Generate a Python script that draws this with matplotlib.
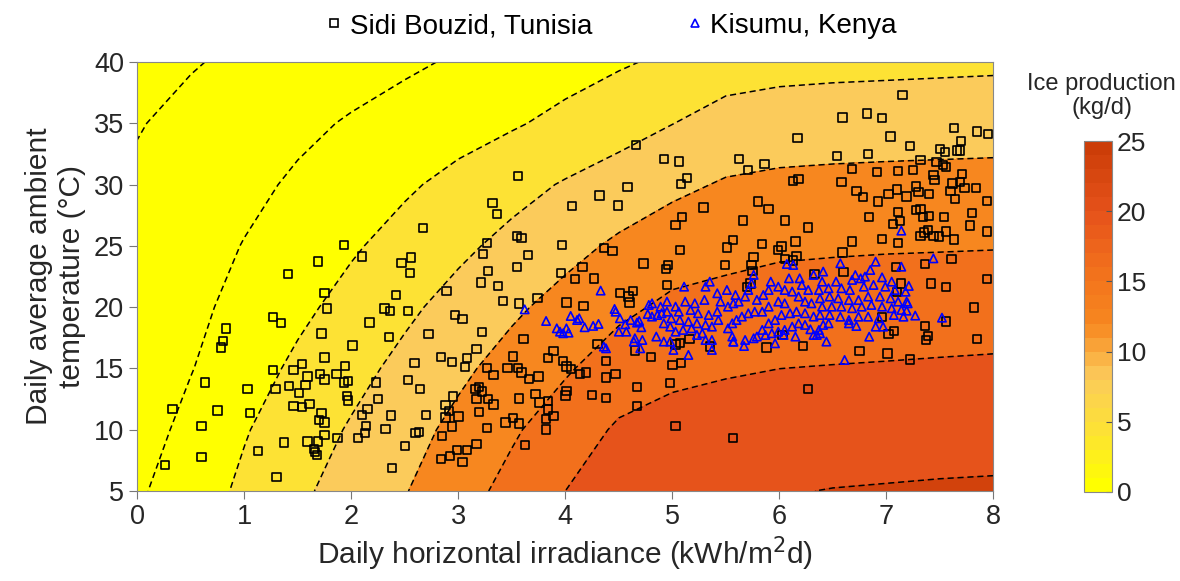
import matplotlib.pyplot as plt
import numpy as np
from matplotlib.colors import LinearSegmentedColormap, Normalize
from matplotlib.cm import ScalarMappable
from matplotlib.lines import Line2D

plt.rcParams['font.family'] = ['Liberation Sans', 'DejaVu Sans']
plt.rcParams['lines.dashed_pattern'] = [4, 2.5]

# modelled ice production (kg/d)
irr_grid = [0, 0.5, 1, 1.5, 2, 2.5, 3, 3.5, 4, 4.5, 5, 5.5, 6, 6.5, 7, 7.5, 8]
temp_grid = [5, 10, 15, 20, 25, 30, 35, 40]
ice_grid = [
    [-0.53, 2.1, 4.72, 7.28, 9.6, 11.82, 14.45, 17.18, 20.0, 21.5, 22.5, 23.3, 23.8, 24.1, 24.25, 24.4, 24.5],
    [-1.65, 1.04, 3.73, 6.07, 8.36, 10.61, 12.96, 15.49, 18.05, 20.5, 21.1, 21.5, 21.9, 22.1, 22.25, 22.4, 22.5],
    [-2.65, -0.15, 2.35, 4.72, 6.82, 8.99, 11.24, 13.42, 15.57, 17.9, 19.29, 19.69, 19.99, 20.14, 20.27, 20.42, 20.56],
    [-2.94, -0.9, 1.14, 3.18, 5.22, 7.27, 9.31, 11.35, 13.28, 15.17, 16.75, 17.27, 17.72, 17.88, 18.0, 18.1, 18.21],
    [-3.28, -1.57, 0.14, 1.85, 3.56, 5.37, 7.22, 9.05, 10.85, 12.62, 14.11, 14.83, 15.38, 15.56, 15.69, 15.76, 15.84],
    [-3.45, -2.38, -0.91, 0.53, 2.0, 3.47, 5.06, 6.71, 8.31, 9.73, 11.15, 12.36, 12.81, 12.98, 13.09, 13.17, 13.25],
    [-4.2, -3.06, -1.93, -0.79, 0.33, 1.42, 2.51, 3.61, 4.96, 6.45, 7.94, 9.37, 9.86, 10.06, 10.19, 10.3, 10.4],
    [-5.16, -4.24, -3.33, -2.41, -1.49, -0.58, 0.4, 1.46, 2.52, 3.58, 4.7, 6.3, 6.74, 6.94, 7.06, 7.19, 7.32],
]
levels = [-4, 0, 4, 8, 12, 16, 20, 24]
fill_colors = ['#FFFF00', '#FFFF00', '#FFFF00', '#FDE234', '#FBCB5B',
               '#F7871F', '#F2701C', '#E6531B', '#D2420C']

cbar_values = [0, 4, 8, 12, 16, 20, 24, 25]
cbar_colors = ['#FFFF00', '#FDE234', '#FBCB5B', '#F7871F', '#F2701C', '#E6531B', '#D2420C', '#CC3D08']

tunisia_irr = [
    1.93, 1.69, 2.10, 2.47, 2.56, 2.67, 2.55, 1.41,
    1.75, 2.42, 1.77, 1.27, 1.34, 2.31, 2.36, 2.53, 2.17, 0.83, 0.80, 0.78,
    1.72, 2.35, 2.01, 1.75, 2.59, 1.27, 1.54, 1.46, 1.59, 1.71, 1.75, 1.86,
    1.94, 1.93, 1.97, 1.57, 1.42, 1.29, 1.03, 0.63, 1.51, 1.96, 1.97, 2.23,
    2.53, 2.64, 2.72, 2.25, 1.46, 1.54, 1.61, 1.72, 1.70, 1.75, 2.15, 2.10,
    2.37, 2.70, 0.33, 0.75, 1.05, 0.60, 2.14, 2.32, 2.13, 2.06, 1.87, 1.75,
    2.63, 2.60, 1.59, 1.69, 1.37, 1.13, 1.65, 1.66, 1.68, 0.60, 0.26, 1.30,
    2.38, 2.50,
    4.66, 4.92, 5.06, 5.14, 5.08, 4.58, 4.32, 4.06, 4.49, 5.29, 3.56, 3.32,
    3.36, 5.09, 5.03, 3.55, 3.59, 3.27, 3.23, 3.65, 3.97, 4.36, 4.44, 5.07,
    3.55, 3.28, 4.73, 4.96, 4.94, 4.16, 3.96,
    3.21, 3.37, 2.89, 3.42, 3.57, 3.74, 2.97, 3.04, 3.22, 3.61, 3.17, 2.84,
    2.94, 3.08, 3.06, 3.27, 3.33, 3.46, 3.51, 3.56, 3.59, 3.66, 3.75, 3.89,
    3.84, 3.98, 4.01, 4.05, 4.14, 4.19, 4.38, 4.38, 4.47, 4.30, 4.01, 4.17,
    4.09, 4.27, 4.51, 4.63, 4.60, 4.59, 4.95, 4.67, 4.98, 4.67, 5.03, 4.80,
    4.65, 5.00, 5.08, 5.07, 5.16, 5.03, 2.95, 2.88, 2.91, 2.88, 2.94, 3.00,
    2.85, 3.16, 3.19, 3.22, 3.17, 3.28, 3.33, 3.19, 3.27, 3.57, 3.44, 3.51,
    3.57, 3.72, 3.76, 3.84, 3.84, 3.82, 3.89, 3.82, 4.01, 4.00, 4.25, 4.38,
    3.62, 3.17, 3.08, 2.99, 2.92, 2.84, 3.04,
    7.15, 6.59, 6.82, 6.96, 6.17, 7.04, 7.22, 7.63, 7.85, 7.95, 7.70, 7.50,
    7.55, 7.66, 7.69, 5.62, 5.71, 5.86, 6.54, 6.83, 7.32, 7.47, 7.53, 7.56,
    6.68, 6.91, 7.11, 7.25, 7.44, 7.45, 7.71, 6.13, 6.18, 6.58, 5.80, 5.90,
    6.72, 6.78, 6.92, 7.02, 7.10, 7.19, 7.28, 7.30, 7.40, 7.60, 7.62, 7.69,
    7.73, 7.84, 7.64, 7.94, 5.66, 6.05, 6.27, 6.84, 7.11, 7.13, 7.06, 7.28,
    7.32, 7.34, 7.40, 7.54, 7.80, 7.78, 7.94, 5.57, 5.51, 5.84, 5.99, 6.02,
    6.15, 6.68, 6.96, 7.11, 7.32, 7.39, 7.35, 7.44, 7.49, 7.56, 7.63, 5.76,
    5.49, 5.74, 6.05, 6.16, 6.13, 6.59, 7.09, 7.36, 7.61, 6.60, 6.33, 5.75,
    7.14, 7.42, 7.56, 7.94, 7.10, 6.96, 7.07, 7.02, 7.36, 7.39, 7.37, 7.56,
    7.82, 7.85, 6.75, 7.01, 7.22, 5.88, 6.22, 6.03, 6.27, 5.57, 5.35, 5.73,
    5.70,
]
tunisia_temp = [
    25.07, 23.71, 24.12, 23.58, 24.04, 26.44, 22.77, 22.68,
    21.13, 21.00, 19.90, 19.17, 18.73, 19.90, 19.69, 19.69, 18.76, 18.27, 17.24, 16.70,
    17.86, 17.54, 16.86, 15.88, 15.47, 14.87, 15.36, 14.87, 14.33, 14.55, 14.11, 14.55,
    15.20, 13.84, 13.98, 13.65, 13.57, 13.30, 13.32, 13.84, 13.02, 12.75, 12.37, 13.84,
    14.06, 13.30, 17.81, 12.48, 11.94, 11.83, 12.10, 11.39, 10.80, 10.58, 11.67, 11.20,
    11.15, 11.20, 11.67, 11.56, 11.39, 10.31, 10.31, 10.06, 9.71, 9.35, 9.35, 9.57,
    9.79, 9.72, 9.03, 9.03, 8.95, 8.29, 8.40, 8.20, 7.94, 7.80, 7.12, 6.12,
    6.88, 8.67,
    33.23, 32.06, 31.87, 30.51, 30.05, 29.78, 29.10, 28.26, 28.28, 28.12, 30.70, 28.47,
    27.60, 27.33, 26.70, 25.83, 25.62, 25.21, 24.34, 24.28, 25.07, 24.80, 24.58, 24.66,
    23.28, 22.95, 23.55, 23.44, 23.12, 23.28, 22.76,
    22.02, 21.72, 21.34, 20.50, 20.31, 20.77, 19.36, 19.03, 17.95, 17.38, 16.59, 15.91,
    15.55, 15.83, 15.09, 15.01, 14.47, 15.06, 15.96, 15.01, 14.68, 14.14, 14.33, 16.42,
    15.83, 15.63, 15.15, 14.95, 14.57, 14.66, 15.63, 14.25, 14.52, 16.99, 20.39, 20.12,
    22.30, 22.35, 21.18, 21.32, 20.39, 20.86, 21.81, 13.51, 13.79, 11.96, 10.31, 15.91,
    16.45, 15.28, 15.47, 17.10, 17.38, 16.95, 12.70, 12.02, 11.53, 10.99, 10.25, 11.07,
    9.49, 13.30, 13.51, 13.11, 12.48, 12.51, 12.07, 11.42, 10.12, 12.56, 10.60, 10.93,
    10.52, 12.92, 12.21, 12.35, 11.66, 10.85, 11.12, 10.03, 13.16, 12.78, 12.83, 12.59,
    8.76, 8.81, 8.35, 8.35, 7.86, 7.61, 7.34,
    37.28, 35.46, 35.81, 35.41, 33.80, 33.91, 33.15, 34.64, 34.32, 34.13, 33.58, 32.88,
    32.63, 32.77, 32.77, 32.06, 31.19, 31.68, 32.33, 32.47, 32.01, 31.82, 31.60, 31.46,
    31.27, 31.00, 31.11, 31.19, 30.78, 30.37, 30.86, 30.30, 30.46, 30.19, 28.61, 27.98,
    29.48, 28.96, 28.61, 29.21, 29.61, 29.02, 29.83, 29.42, 29.23, 29.48, 30.10, 30.19,
    29.70, 29.70, 28.82, 28.66, 27.06, 27.06, 26.51, 27.33, 27.74, 27.03, 26.79, 27.93,
    28.01, 27.33, 27.44, 27.33, 27.66, 26.65, 26.16, 25.48, 24.86, 25.13, 24.67, 24.94,
    25.35, 25.35, 25.56, 25.26, 25.81, 26.32, 26.08, 25.81, 25.75, 26.16, 25.53, 24.07,
    23.44, 23.44, 23.93, 24.18, 23.80, 24.45, 23.25, 23.50, 23.93, 22.84, 22.68, 22.95,
    21.94, 21.94, 21.67, 22.30, 21.26, 19.22, 18.08, 17.81, 18.46, 17.65, 17.32, 18.82,
    19.98, 17.38, 16.42, 16.23, 15.74, 16.70, 16.83, 17.73, 13.32, 9.35, 16.78, 21.94,
    21.67,
]

kenya_irr = [
    4.33, 3.62, 3.82, 4.05, 4.11, 4.13, 3.92, 3.95, 4.01, 4.03, 3.98, 4.18,
    4.26, 4.31, 4.46, 4.47, 4.51, 4.50, 4.57, 4.56, 4.61, 4.67, 4.71, 4.69,
    4.77, 4.81, 4.86, 4.78, 4.81, 4.89, 4.90, 4.85, 4.65, 4.72, 4.70, 4.92,
    4.92, 4.36, 4.38, 4.64,
    5.11, 5.31, 5.35, 5.42, 5.51, 5.59, 5.45, 5.30, 5.21, 5.12, 5.03, 4.95,
    4.95, 5.06, 5.17, 5.24, 5.34, 5.42, 5.52, 5.57, 5.62, 5.68, 5.71, 5.74,
    5.76, 5.79, 5.85, 5.90, 5.92, 5.99, 6.09, 6.05, 6.12, 6.19, 6.21, 6.27,
    6.32, 6.18, 6.24, 6.30, 6.05, 5.99, 5.90, 5.84, 5.77, 5.71, 5.65, 5.60,
    5.56, 5.52, 5.43, 5.37, 5.31, 5.23, 5.15, 5.07, 4.99, 4.98, 5.03, 5.10,
    5.18, 5.28, 5.37, 5.31, 5.23, 5.56, 5.57, 5.68, 5.67, 5.76, 5.84, 5.90,
    5.96, 6.02, 6.10, 6.16, 6.24, 6.32, 6.24, 6.18, 6.12, 6.05, 5.99, 5.93,
    5.87, 5.79, 6.15, 6.04, 5.96, 5.37, 5.15, 4.98, 5.01, 6.13, 6.07, 6.29,
    6.32,
    7.14, 7.44, 6.90, 6.57, 7.14, 6.41, 6.85, 6.71, 6.68, 6.76, 6.80, 6.96,
    7.05, 7.21, 6.53, 6.40, 6.37, 6.46, 6.58, 6.66, 6.79, 6.88, 6.99, 7.08,
    7.18, 6.38, 6.47, 6.55, 6.65, 6.74, 6.83, 6.94, 7.04, 7.11, 7.19, 6.40,
    6.49, 6.58, 6.68, 6.77, 6.86, 6.96, 7.05, 7.14, 7.27, 7.52, 6.38, 6.47,
    6.57, 6.65, 6.74, 6.83, 6.93, 7.07, 7.16, 6.41, 6.65, 6.72, 6.90, 6.97,
    6.46, 6.38, 6.44, 6.84, 6.61, 6.37,
    5.57, 6.35, 7.20, 7.19,
]
kenya_temp = [
    21.35, 19.82, 18.87, 19.28, 18.95, 19.09, 18.27, 18.00, 18.27, 17.92, 17.87, 18.36,
    18.47, 18.63, 19.85, 19.63, 19.09, 18.00, 18.00, 18.60, 18.95, 18.74, 18.36, 18.87,
    19.44, 19.23, 19.36, 20.18, 20.31, 20.04, 19.50, 17.60, 17.46, 17.32, 16.64, 17.19,
    18.68, 16.78, 16.64, 17.19,
    21.67, 21.67, 22.08, 21.13, 21.40, 20.99, 20.45, 20.59, 20.31, 20.45, 20.04, 20.45,
    19.63, 19.63, 19.77, 19.50, 19.36, 19.63, 20.04, 20.31, 20.45, 20.86, 21.40, 21.95,
    22.63, 20.59, 20.99, 21.40, 22.08, 21.67, 22.35, 21.40, 21.27, 22.35, 21.81, 21.40,
    22.63, 20.86, 20.45, 20.31, 20.31, 20.45, 20.04, 19.63, 19.63, 19.50, 19.23, 18.95,
    18.68, 18.27, 18.95, 18.41, 18.55, 18.68, 18.82, 18.95, 19.09, 18.41, 18.00, 18.14,
    18.27, 17.87, 17.32, 17.32, 17.73, 17.60, 17.19, 17.32, 16.83, 17.46, 18.14, 18.68,
    18.95, 19.36, 19.50, 19.63, 19.50, 19.23, 18.55, 18.68, 18.41, 18.14, 18.00, 17.87,
    17.73, 17.60, 17.60, 17.73, 17.05, 16.51, 16.10, 17.19, 16.51, 23.44, 23.52, 18.19,
    17.73,
    26.24, 23.98, 23.71, 23.58, 23.30, 22.90, 23.03, 22.62, 22.22, 22.35, 22.49, 22.43,
    22.08, 21.73, 22.08, 22.08, 21.40, 21.54, 21.54, 21.40, 21.67, 21.81, 21.67, 21.40,
    21.26, 20.72, 20.86, 20.72, 20.58, 20.58, 20.86, 20.86, 20.72, 20.45, 20.45, 20.04,
    20.04, 20.04, 19.91, 20.04, 20.18, 20.04, 19.91, 19.77, 19.31, 19.14, 19.36, 19.36,
    19.22, 18.95, 19.22, 19.22, 19.09, 19.36, 19.22, 18.55, 18.68, 18.46, 18.41, 18.41,
    18.68, 17.87, 17.19, 17.59, 15.69, 18.14,
    17.18, 17.73, 20.31, 19.71,
]

fig = plt.figure(figsize=(11.8, 5.81), dpi=100)
ax = fig.add_axes([0.1164, 0.1549, 0.7254, 0.7384])

ax.contourf(irr_grid, temp_grid, ice_grid, levels=[-10] + levels + [30], colors=fill_colors)
ax.contour(irr_grid, temp_grid, ice_grid, levels=levels, colors='k',
           linewidths=1.1, linestyles='--')

ax.scatter(tunisia_irr, tunisia_temp, marker='s', s=36, facecolors='none',
           edgecolors='k', linewidths=1.2, zorder=3)
ax.scatter(kenya_irr, kenya_temp, marker='^', s=36, facecolors='none',
           edgecolors='#0000FF', linewidths=1.2, zorder=4)

ax.set_xlim(0, 8)
ax.set_ylim(5, 40)
ax.set_xticks(range(0, 9))
ax.set_yticks(range(5, 41, 5))
ax.tick_params(direction='out', length=6, width=0.8, color='#777777',
               labelsize=19.5, labelcolor='#262626')
for sp in ax.spines.values():
    sp.set_color('#888888')
    sp.set_linewidth(0.8)
ax.set_xlabel('Daily horizontal irradiance (kWh/m$^2$d)', fontsize=21.5,
              color='#262626', labelpad=3)
ax.set_ylabel('Daily average ambient\ntemperature (°C)', fontsize=21.5,
              color='#262626', labelpad=6)

cmap = LinearSegmentedColormap.from_list(
    'ice', [(v / 25, c) for v, c in zip(cbar_values, cbar_colors)], N=25)
cax = fig.add_axes([0.9189, 0.1532, 0.0232, 0.6041])
cb = fig.colorbar(ScalarMappable(norm=Normalize(0, 25), cmap=cmap), cax=cax)
cb.set_ticks([0, 5, 10, 15, 20, 25])
cb.ax.tick_params(direction='in', length=4, width=0.8, color='#555555',
                  labelsize=19, labelcolor='#262626')
cb.outline.set_edgecolor('#888888')
cb.outline.set_linewidth(0.8)
fig.text(0.9336, 0.835, 'Ice production\n(kg/d)', ha='center', va='center',
         fontsize=17, color='#262626', linespacing=1.1)

handles = [
    Line2D([], [], marker='s', ls='none', mfc='none', mec='k', ms=6, mew=1.2,
           label='Sidi Bouzid, Tunisia'),
    Line2D([], [], marker='^', ls='none', mfc='none', mec='#0000FF', ms=6, mew=1.2,
           label='Kisumu, Kenya'),
]
fig.legend(handles=handles, loc='center', bbox_to_anchor=(0.518, 0.955), ncol=2,
           frameon=False, fontsize=20, handlelength=0.6, handletextpad=0.25,
           columnspacing=3.4)

fig.savefig('out.png', dpi=100)
